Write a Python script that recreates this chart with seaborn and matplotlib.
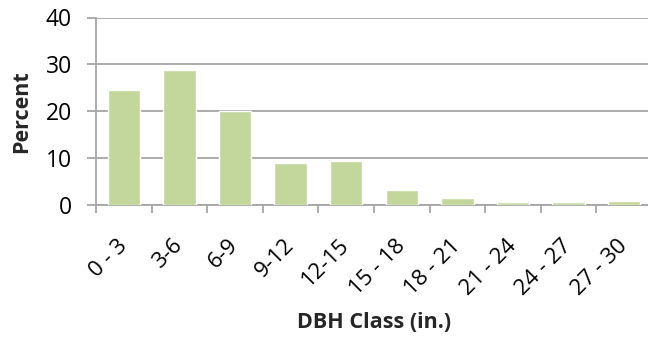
import matplotlib
matplotlib.use("Agg")
import matplotlib.pyplot as plt
import numpy as np
import pandas as pd
import seaborn as sns

# DBH class distribution
dbh_classes = ["0 - 3", "3-6", "6-9", "9-12", "12-15", "15 - 18",
               "18 - 21", "21 - 24", "24 - 27", "27 - 30"]
percent = [24.5, 28.8, 20.0, 8.9, 9.4, 3.3, 1.6, 0.6, 0.6, 0.9]

df = pd.DataFrame({"DBH Class (in.)": dbh_classes, "Percent": percent})

sns.set_theme(style="white")
plt.rcParams["font.family"] = ["Open Sans", "DejaVu Sans"]

grid_col = "#A6A6A6"
fig = plt.figure(figsize=(6.48, 3.39), dpi=100)
ax = fig.add_axes([96 / 648, 1 - 205 / 339, 556 / 648, 187.5 / 339])

sns.barplot(data=df, x="DBH Class (in.)", y="Percent", color="#C3D69B",
            saturation=1, width=0.58, ax=ax, zorder=3)

ax.set_ylim(0, 40)
ax.set_xlim(-0.5, len(dbh_classes) - 0.5)
ax.set_yticks([0, 10, 20, 30, 40])
ax.yaxis.grid(True, color=grid_col, linewidth=1.3, zorder=0)
ax.set_axisbelow(True)

for s in ["top", "right"]:
    ax.spines[s].set_visible(False)
for s in ["left", "bottom"]:
    ax.spines[s].set_color(grid_col)
    ax.spines[s].set_linewidth(1.3)

# category boundaries carry the tick marks, labels sit under bar centres
ax.set_xticks(np.arange(len(dbh_classes)))
ax.set_xticks(np.arange(-0.5, len(dbh_classes), 1.0), minor=True)
ax.tick_params(axis="x", which="major", length=0, pad=27, labelsize=16,
               colors="black")
ax.tick_params(axis="x", which="minor", bottom=True, length=6, width=1.3,
               color=grid_col)
ax.tick_params(axis="y", left=True, length=6.5, width=1.3, color=grid_col,
               labelsize=16.5, pad=11, labelcolor="black")
for lab in ax.get_xticklabels():
    lab.set_rotation(45)
    lab.set_ha("right")
    lab.set_va("center")
    lab.set_rotation_mode("anchor")

ax.set_xlabel("DBH Class (in.)", fontsize=15.5, fontweight="bold")
ax.set_ylabel("Percent", fontsize=15.5, fontweight="bold")
ax.xaxis.set_label_coords(0.5, -(322 - 205) / 187.5)
ax.yaxis.set_label_coords(-(96 - 22) / 556, 0.5)
ax.xaxis.label.set_va("center")
ax.yaxis.label.set_va("center")

fig.savefig("out.png", dpi=100)
